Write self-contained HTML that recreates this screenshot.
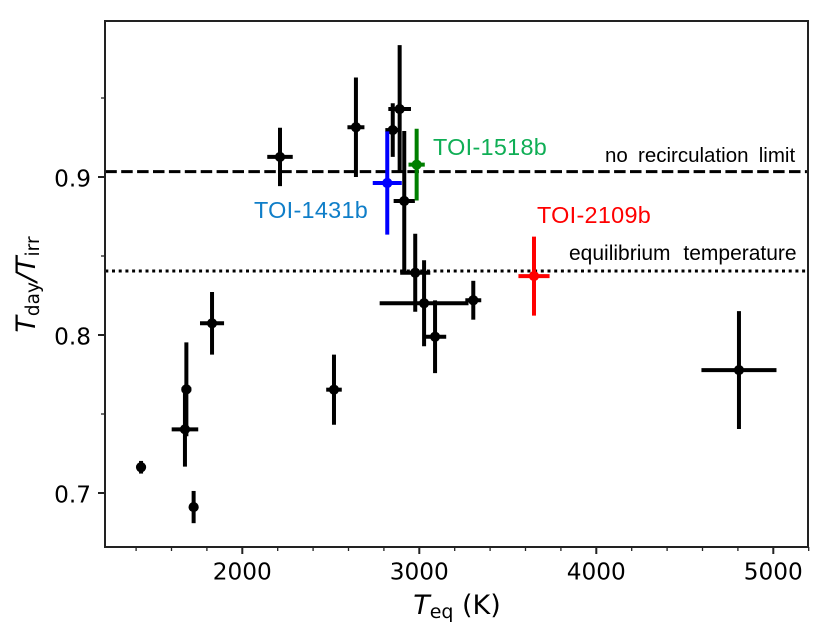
<!DOCTYPE html>
<html>
<head>
<meta charset="utf-8">
<style>
html,body{margin:0;padding:0;background:#fff;}
svg{display:block;}
text{font-family:"DejaVu Sans",sans-serif;fill:#000;}
.ann{font-family:"Liberation Sans",Arial,sans-serif;}
</style>
</head>
<body>
<svg id="chart" width="830" height="638" viewBox="0 0 830 638" xmlns="http://www.w3.org/2000/svg">
  <rect x="0" y="0" width="830" height="638" fill="#fff"/>
  <g id="lines"></g>
  <g id="marks"></g>
  <g id="ticks"></g>
  <rect x="105" y="21" width="703" height="526" fill="none" stroke="#222" stroke-width="2"/>
  <text class="ann" x="605" y="162" font-size="20.5" style="word-spacing:4.5px">no recirculation limit</text>
  <text class="ann" x="569" y="260" font-size="21" style="word-spacing:7px">equilibrium temperature</text>
  <text class="ann" x="254" y="218" font-size="23.4" letter-spacing="0.3" style="fill:#0f7ec8">TOI-1431b</text>
  <text class="ann" x="433" y="155" font-size="23.4" letter-spacing="0.3" style="fill:#0fae55">TOI-1518b</text>
  <text class="ann" x="537" y="223" font-size="23.4" letter-spacing="0.3" style="fill:#ff0000">TOI-2109b</text>
  <text x="457" y="614" font-size="27" text-anchor="middle"><tspan font-style="italic">T</tspan><tspan font-size="19" dy="4">eq</tspan><tspan dy="-4"> (K)</tspan></text>
  <text transform="translate(35,284.5) rotate(-90)" font-size="27" text-anchor="middle"><tspan font-style="italic">T</tspan><tspan font-size="18.5" dy="4">day</tspan><tspan dy="-4" font-style="italic">/T</tspan><tspan font-size="18.5" dy="4">irr</tspan></text>
</svg>
<script>
const teq      = [2213,2642,2850,2889,2915,2977,3027,3089,3305,2518,1829,1684,1676,1428,1725,4806];
const teqErr   = [72,48,42,64,60,85,251,63,45,44,68,28,75,5,12,212];
const ratio    = [0.9127,0.9315,0.9297,0.9430,0.8848,0.8394,0.8201,0.7989,0.8220,0.7654,0.8074,0.7656,0.7403,0.7163,0.6911,0.7778];
const ratioErr = [0.0185,0.0315,0.0170,0.0405,0.0443,0.0247,0.0272,0.0230,0.0123,0.0222,0.0198,0.0297,0.0236,0.0040,0.0102,0.0373];
const highlightNames = ['toi-1431b','toi-1518b','toi-2109b'];
const highlightTeq = [2819,2985,3648];
const highlightTeqErr = [82,46,88];
const highlightRatio = [0.8962,0.9078,0.8373];
const highlightRatioErr = [0.0327,0.0227,0.0250];
const highlightColors = ['#0000ff','#007f00','#ff0000'];
const noRecirculationLimit = 0.9034;
const equilibriumLevel = 0.8405;
const lineRange = [1226,5190];
const xMajorTicks = [2000,3000,4000,5000];
const xMinorTicks = [1400,1600,1800,2200,2400,2600,2800,3200,3400,3600,3800,4200,4400,4600,4800,5200];
const yMajorTicks = [0.7,0.8,0.9];
const yMinorTicks = [0.75,0.85,0.95];
const xTickLabels = ['2000','3000','4000','5000'];
const yTickLabels = ['0.7','0.8','0.9'];

const NS = 'http://www.w3.org/2000/svg';
function xScale(v){ return 242.3 + (v - 2000) * 0.177; }
function yScale(v){ return 335 - (v - 0.8) * 1580; }
function make(parent, tag, attrs){
  const el = document.createElementNS(NS, tag);
  for (const k in attrs) el.setAttribute(k, attrs[k]);
  parent.appendChild(el);
  return el;
}
const linesG = document.getElementById('lines');
const marksG = document.getElementById('marks');
const ticksG = document.getElementById('ticks');

const dashed = make(linesG, 'line', {x1:xScale(lineRange[0]),x2:xScale(lineRange[1]),y1:yScale(noRecirculationLimit),y2:yScale(noRecirculationLimit),stroke:'#000','stroke-width':3,'stroke-dasharray':'11.5 4.4'});


const dotted = make(linesG, 'line', {x1:xScale(lineRange[0]),x2:xScale(lineRange[1]),y1:yScale(equilibriumLevel),y2:yScale(equilibriumLevel),stroke:'#000','stroke-width':3,'stroke-dasharray':'3 3.7'});



function drawPoint(name, t, tErr, r, rErr, color){
  const g = make(marksG, 'g', {});
  
  
  make(g, 'line', {x1:xScale(t-tErr),x2:xScale(t+tErr),y1:yScale(r),y2:yScale(r),stroke:color,'stroke-width':4});
  make(g, 'line', {x1:xScale(t),x2:xScale(t),y1:yScale(r+rErr),y2:yScale(r-rErr),stroke:color,'stroke-width':4});
  make(g, 'circle', {cx:xScale(t),cy:yScale(r),r:5.1,fill:color});
}
teq.forEach(function(t, i){
  drawPoint('planet-point-' + (i + 1), t, teqErr[i], ratio[i], ratioErr[i], '#000');
});
highlightTeq.forEach(function(t, i){
  drawPoint(highlightNames[i] + '-point', t, highlightTeqErr[i], highlightRatio[i], highlightRatioErr[i], highlightColors[i]);
});

xMinorTicks.forEach(function(v){
  const t = make(ticksG, 'line', {x1:xScale(v),x2:xScale(v),y1:547,y2:551,stroke:'#222','stroke-width':1.3});
  
  
});
yMinorTicks.forEach(function(v){
  const t = make(ticksG, 'line', {x1:101,x2:105,y1:yScale(v),y2:yScale(v),stroke:'#222','stroke-width':1.3});
  
  
});
xMajorTicks.forEach(function(v, i){
  const t = make(ticksG, 'line', {x1:xScale(v),x2:xScale(v),y1:547,y2:554,stroke:'#222','stroke-width':2});
  
  
  const l = make(ticksG, 'text', {x:xScale(v),y:579.5,'font-size':23.2,'text-anchor':'middle'});
  
  
  l.textContent = xTickLabels[i];
});
yMajorTicks.forEach(function(v, i){
  const t = make(ticksG, 'line', {x1:98,x2:105,y1:yScale(v),y2:yScale(v),stroke:'#222','stroke-width':2});
  
  
  const l = make(ticksG, 'text', {x:91,y:yScale(v)+9.5,'font-size':23.2,'text-anchor':'end'});
  
  
  l.textContent = yTickLabels[i];
});
</script>
</body>
</html>
